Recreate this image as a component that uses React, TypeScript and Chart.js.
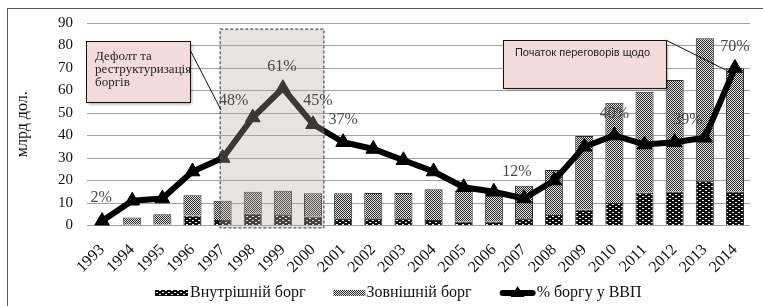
import React, { useEffect, useRef } from "react";
import { Chart, registerables } from "chart.js";
Chart.register(...registerables);

const years = ["1993","1994","1995","1996","1997","1998","1999","2000","2001","2002","2003","2004","2005","2006","2007","2008","2009","2010","2011","2012","2013","2014"];
const domesticDebt = [0, 0.3, 0.4, 4.5, 2.5, 5.2, 5.0, 4.0, 3.2, 3.2, 3.2, 2.4, 1.7, 1.7, 3.2, 4.7, 7.0, 10.0, 14.6, 15.0, 20.0, 15.0];
const externalDebt = [0, 3.3, 4.6, 9.0, 8.5, 9.8, 10.5, 10.3, 11.1, 11.2, 11.2, 13.7, 13.8, 12.8, 14.5, 20.0, 32.8, 44.6, 44.9, 49.7, 63.2, 54.9];
const debtToGdp = [2, 11, 12, 24, 30, 48, 61, 45, 37, 34, 29, 24, 17, 15, 12, 20, 35, 40, 36, 37, 39, 70];
const labeledYears = ["1993", "1998", "1999", "2000", "2001", "2007", "2010", "2013", "2014"];
const labelOffsets = [[-1, -23], [-19, -17], [-1, -21], [5, -23], [0, -22], [-7, -27], [0, -22], [-17, -18], [0, -21]];
const yTicks = [0, 10, 20, 30, 40, 50, 60, 70, 80, 90];

const seriesNames = ["Внутрішній борг", "Зовнішній борг", "% боргу у ВВП"];
const yTitle = "млрд дол.";
const note1 = ["Дефолт та", "реструктуризація", "боргів"];
const note2 = ["Початок переговорів щодо"];

// annotation geometry in data units (category index, value)
const shadeBox = { from: 3.92, to: 7.36, top: 87.3, bottom: -1.1 };
const note1Box = { from: -0.53, to: 2.92, top: 82, bottom: 54.9, lineFromV: 78, lineToI: 3.95, lineToV: 51.3 };
const note2Box = { from: 13.3, to: 18.71, top: 82.4, bottom: 61.1, lineFromV: 82.4, lineToI: 20.7, lineToV: 69.1 };

const SERIF = "'Liberation Serif', 'Times New Roman', serif";
const SANS = "'Liberation Sans', Arial, sans-serif";

function makePattern(kind: "ext" | "dom"): CanvasPattern | string {
  const c = document.createElement("canvas");
  const x = c.getContext("2d");
  if (!x) return "#888";
  if (kind === "ext") {
    c.width = 2; c.height = 2;
    x.fillStyle = "#e6e6e6"; x.fillRect(0, 0, 2, 2);
    x.fillStyle = "#262626"; x.fillRect(0, 0, 1, 1); x.fillRect(1, 1, 1, 1);
  } else {
    c.width = 6; c.height = 4;
    x.fillStyle = "#0e0e0e"; x.fillRect(0, 0, 6, 4);
    x.fillStyle = "#f4f4f4"; x.fillRect(0, 0, 2, 1); x.fillRect(3, 2, 2, 1);
  }
  return x.createPattern(c, "repeat") || "#888";
}

export default function App() {
  const ref = useRef<HTMLCanvasElement | null>(null);
  useEffect(() => {
    document.body.style.margin = "0";
    const canvas = ref.current;
    if (!canvas) return;
    const extPat = makePattern("ext");
    const domPat = makePattern("dom");

    const overlay = {
      id: "overlay",
      beforeDraw(chart: any) {
        const ctx = chart.ctx;
        ctx.save();
        ctx.fillStyle = "#fff";
        ctx.fillRect(0, 0, chart.width, chart.height);
        ctx.strokeStyle = "#595959";
        ctx.lineWidth = 1;
        ctx.strokeRect(7.5, 8.5, chart.width + 20, chart.height + 20);
        ctx.restore();
      },
      afterDatasetsDraw(chart: any) {
        const ctx = chart.ctx;
        const xs = chart.scales.x, ys = chart.scales.y;
        // shaded period
        const l = xs.getPixelForValue(shadeBox.from), r = xs.getPixelForValue(shadeBox.to);
        const t = ys.getPixelForValue(shadeBox.top), b = ys.getPixelForValue(shadeBox.bottom);
        ctx.save();
        ctx.fillStyle = "rgba(185,166,166,0.33)";
        ctx.fillRect(l, t, r - l, b - t);
        ctx.setLineDash([3, 2]);
        ctx.strokeStyle = "#555";
        ctx.lineWidth = 1.3;
        ctx.strokeRect(l, t, r - l, b - t);
        ctx.restore();
        // percent labels
        const meta = chart.getDatasetMeta(2);
        ctx.save();
        ctx.font = "16px " + SERIF;
        ctx.fillStyle = "#4a4a4a";
        ctx.textAlign = "center";
        ctx.textBaseline = "middle";
        labeledYears.forEach((yr, k) => {
          const i = years.indexOf(yr);
          const p = meta.data[i];
          if (!p) return;
          ctx.fillText(debtToGdp[i] + "%", p.x + labelOffsets[k][0], p.y + labelOffsets[k][1]);
        });
        ctx.restore();
      },
      afterDraw(chart: any) {
        const ctx = chart.ctx;
        const xs = chart.scales.x, ys = chart.scales.y;
        const drawNote = (box: any, lines: string[], font: string, lineH: number, padX: number, firstY: number) => {
          const l = xs.getPixelForValue(box.from), r = xs.getPixelForValue(box.to);
          const t = ys.getPixelForValue(box.top), b = ys.getPixelForValue(box.bottom);
          ctx.save();
          ctx.strokeStyle = "#111";
          ctx.lineWidth = 1;
          ctx.beginPath();
          ctx.moveTo(r, ys.getPixelForValue(box.lineFromV));
          ctx.lineTo(xs.getPixelForValue(box.lineToI), ys.getPixelForValue(box.lineToV));
          ctx.stroke();
          ctx.shadowColor = "rgba(0,0,0,0.4)";
          ctx.shadowBlur = 3;
          ctx.shadowOffsetX = 2;
          ctx.shadowOffsetY = 2;
          ctx.fillStyle = "#f2dcdb";
          ctx.fillRect(l, t, r - l, b - t);
          ctx.shadowColor = "transparent";
          ctx.strokeRect(Math.round(l) + 0.5, Math.round(t) + 0.5, r - l, b - t);
          ctx.fillStyle = "#222";
          ctx.font = font;
          ctx.textAlign = "left";
          ctx.textBaseline = "middle";
          lines.forEach((s, k) => ctx.fillText(s, l + padX, t + firstY + k * lineH));
          ctx.restore();
        };
        drawNote(note1Box, note1, "13px " + SERIF, 13, 9, 16);
        drawNote(note2Box, note2, "11px " + SANS, 13, 12, 13);

        // legend
        ctx.save();
        ctx.font = "16px " + SERIF;
        ctx.textBaseline = "middle";
        ctx.textAlign = "left";
        const cy = 293;
        let x = 155;
        ctx.fillStyle = domPat as any;
        ctx.fillRect(x, cy - 3, 33, 6);
        x += 35;
        ctx.fillStyle = "#111";
        ctx.fillText(seriesNames[0], x, cy);
        x += ctx.measureText(seriesNames[0]).width + 28;
        ctx.fillStyle = extPat as any;
        ctx.fillRect(x, cy - 3, 32, 6);
        x += 33;
        ctx.fillStyle = "#111";
        ctx.fillText(seriesNames[1], x, cy);
        x += ctx.measureText(seriesNames[1]).width + 28;
        ctx.strokeStyle = "#000";
        ctx.lineWidth = 6;
        ctx.lineCap = "round";
        ctx.beginPath();
        ctx.moveTo(x + 3, cy);
        ctx.lineTo(x + 33, cy);
        ctx.stroke();
        ctx.fillStyle = "#000";
        ctx.beginPath();
        ctx.moveTo(x + 18, cy - 7);
        ctx.lineTo(x + 25, cy + 4);
        ctx.lineTo(x + 11, cy + 4);
        ctx.closePath();
        ctx.fill();
        x += 37;
        ctx.fillStyle = "#111";
        ctx.fillText(seriesNames[2], x, cy);
        ctx.restore();
      },
    };

    const chart = new Chart(canvas, {
      type: "bar",
      data: {
        labels: years,
        datasets: [
          { type: "bar", label: seriesNames[0], data: domesticDebt, backgroundColor: domPat as any, borderColor: "#2a2a2a", borderWidth: 1, stack: "d", order: 2, barPercentage: 0.6, categoryPercentage: 1 },
          { type: "bar", label: seriesNames[1], data: externalDebt, backgroundColor: extPat as any, borderColor: "#2a2a2a", borderWidth: 1, stack: "d", order: 2, barPercentage: 0.6, categoryPercentage: 1 },
          { type: "line", label: seriesNames[2], data: debtToGdp, borderColor: "#000", borderWidth: 6, pointStyle: "triangle", pointRadius: 8.5, pointBackgroundColor: "#000", pointBorderColor: "#000", pointBorderWidth: 1, tension: 0, order: 1 } as any,
        ],
      },
      options: {
        responsive: false,
        animation: false,
        events: [],
        layout: { padding: { top: 23, right: 13, bottom: 0, left: 0 } },
        plugins: { legend: { display: false }, tooltip: { enabled: false } },
        scales: {
          x: {
            stacked: true,
            grid: { display: false },
            border: { display: false },
            ticks: { autoSkip: false, maxRotation: 45, minRotation: 45, padding: 7, color: "#111", font: { family: SERIF, size: 16 } },
            afterFit(scale: any) { scale.height = 80.5; },
          },
          y: {
            stacked: true,
            min: 0,
            max: 90,
            afterBuildTicks(scale: any) { scale.ticks = yTicks.map((v) => ({ value: v })); },
            grid: { color: "#a0a0a0", lineWidth: 1, drawTicks: false },
            border: { display: false },
            ticks: { padding: 14, color: "#111", font: { family: SERIF, size: 15 } },
            title: { display: true, text: yTitle, color: "#111", font: { family: SERIF, size: 16 }, padding: { top: 13, bottom: 0 } },
            afterFit(scale: any) { scale.width = 87; },
          },
        },
      },
      plugins: [overlay],
    });
    return () => chart.destroy();
  }, []);
  return <canvas ref={ref} width={763} height={306} style={{ display: "block" }} />;
}
